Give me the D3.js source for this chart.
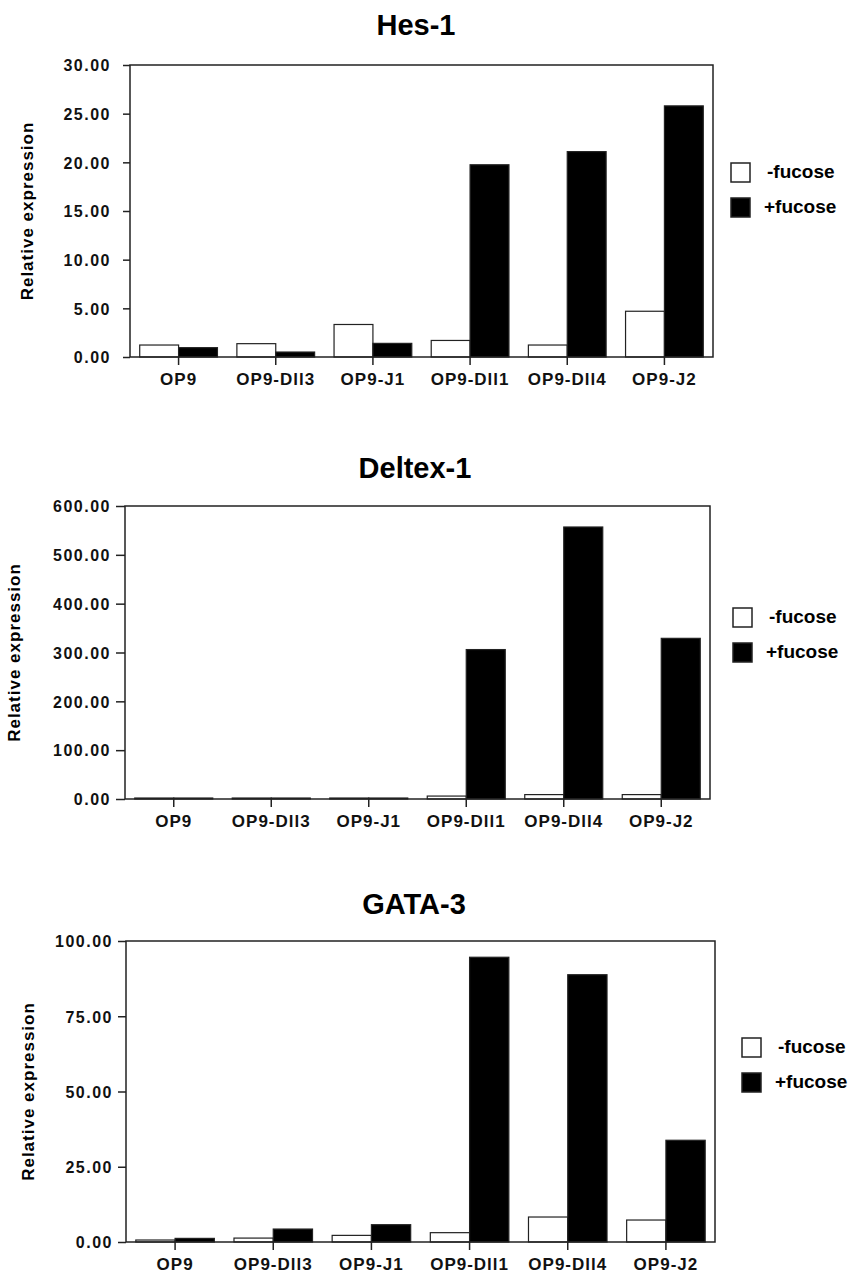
<!DOCTYPE html>
<html>
<head>
<meta charset="utf-8">
<title>Hes-1 / Deltex-1 / GATA-3</title>
<script src="https://cdn.jsdelivr.net/npm/d3@7"></script>
<style>
    body { margin: 0; background: #fff; }
    svg { font-family: "Liberation Sans", Arial, Helvetica, sans-serif; font-weight: bold; }
    .title { font-size: 29px; text-anchor: middle; }
    .ylab { font-size: 17px; letter-spacing: 1px; text-anchor: middle; }
    .yaxis text { font-size: 16px; letter-spacing: 1.5px; font-weight: bold; fill: #111; }
    .xaxis text { font-size: 17px; letter-spacing: 1px; font-weight: bold; fill: #111; }
    .leg { font-size: 19px; }
</style>
</head>
<body>
<script>
    // categories and series
    var categories = ["OP9", "OP9-Dll3", "OP9-J1", "OP9-Dll1", "OP9-Dll4", "OP9-J2"];
    var seriesNames = ["-fucose", "+fucose"];

    // Hes-1
    var hesMinus = [1.23, 1.37, 3.34, 1.70, 1.23, 4.70];
    var hesPlus = [0.96, 0.51, 1.40, 19.75, 21.10, 25.80];
    var hesTicks = [0, 5, 10, 15, 20, 25, 30];

    // Deltex-1
    var deltexMinus = [2, 2, 2, 6, 9, 9];
    var deltexPlus = [2, 2, 2, 306, 557, 329];
    var deltexTicks = [0, 100, 200, 300, 400, 500, 600];

    // GATA-3
    var gataMinus = [0.66, 1.3, 2.2, 3.1, 8.3, 7.3];
    var gataPlus = [1.2, 4.3, 5.75, 94.6, 88.8, 33.8];
    var gataTicks = [0, 25, 50, 75, 100];

    var width = 850, height = 1276;

    var svg = d3.select("body").append("svg")
            .attr("width", width)
            .attr("height", height);

    var fills = ["#fff", "#000"];

    function drawPanel(cfg) {
        var g = svg.append("g");

        var x = d3.scaleBand()
                .domain(categories)
                .range([cfg.left, cfg.right])
                .paddingInner(0.2)
                .paddingOuter(0.1);

        var xs = d3.scaleBand()
                .domain(seriesNames)
                .range([0, x.bandwidth()]);

        var y = d3.scaleLinear()
                .domain([0, d3.max(cfg.ticks)])
                .range([cfg.bottom, cfg.top]);

        // title
        g.append("text")
                .attr("class", "title")
                .attr("x", cfg.titleX)
                .attr("y", cfg.titleY)
                .text(cfg.title);

        // y label
        g.append("text")
                .attr("class", "ylab")
                .attr("transform", "translate(" + cfg.labX + "," + ((cfg.top + cfg.bottom) / 2) + ") rotate(-90)")
                .text("Relative expression");

        // bars
        var rows = categories.map(function (c, i) {
            return {cat: c, vals: [cfg.minus[i], cfg.plus[i]]};
        });

        var grp = g.selectAll(".grp")
                .data(rows)
                .enter()
                .append("g")
                .attr("transform", function (d) {
                    return "translate(" + x(d.cat) + ",0)";
                });

        grp.selectAll("rect")
                .data(function (d) {
                    return d.vals.map(function (v, j) {
                        return {s: seriesNames[j], v: v, j: j};
                    });
                })
                .enter()
                .append("rect")
                .attr("x", function (d) { return xs(d.s); })
                .attr("width", xs.bandwidth())
                .attr("y", function (d) { return y(d.v); })
                .attr("height", function (d) { return y(0) - y(d.v); })
                .attr("fill", function (d) { return fills[d.j]; })
                .attr("stroke", "#222")
                .attr("stroke-width", 1.2);

        // frame
        g.append("rect")
                .attr("x", cfg.left)
                .attr("y", cfg.top)
                .attr("width", cfg.right - cfg.left)
                .attr("height", cfg.bottom - cfg.top)
                .attr("fill", "none")
                .attr("stroke", "#222")
                .attr("stroke-width", 1.5);

        // axes
        var ya = g.append("g")
                .attr("class", "yaxis")
                .attr("transform", "translate(" + cfg.left + ",0)")
                .call(d3.axisLeft(y)
                        .tickValues(cfg.ticks)
                        .tickFormat(d3.format(".2f"))
                        .tickSize(cfg.tick)
                        .tickSizeOuter(0)
                        .tickPadding(cfg.left - cfg.labEnd - cfg.tick));
        ya.select(".domain").remove();
        ya.selectAll("line").attr("stroke", "#222").attr("stroke-width", 1.5);
        ya.selectAll("text").attr("dy", "0.36em");

        var xa = g.append("g")
                .attr("class", "xaxis")
                .attr("transform", "translate(0," + cfg.bottom + ")")
                .call(d3.axisBottom(x).tickSize(8).tickSizeOuter(0).tickPadding(5));
        xa.select(".domain").remove();
        xa.selectAll("line").attr("stroke", "#222").attr("stroke-width", 1.5);
        xa.selectAll("text").attr("dy", "0.9em");

        // legend
        var leg = g.append("g");
        seriesNames.forEach(function (s, j) {
            leg.append("rect")
                    .attr("x", cfg.legX)
                    .attr("y", cfg.legY + j * 35)
                    .attr("width", 19)
                    .attr("height", 19)
                    .attr("fill", fills[j])
                    .attr("stroke", "#222")
                    .attr("stroke-width", 1.5);
            leg.append("text")
                    .attr("class", "leg")
                    .attr("x", cfg.legX + (j === 0 ? 36 : 33))
                    .attr("y", cfg.legY + j * 35 + 15)
                    .text(s);
        });
    }

    drawPanel({
        title: "Hes-1", titleX: 416, titleY: 35,
        minus: hesMinus, plus: hesPlus, ticks: hesTicks,
        left: 130, right: 713, top: 65, bottom: 357,
        tick: 7, labEnd: 111, labX: 33,
        legX: 731, legY: 163
    });

    drawPanel({
        title: "Deltex-1", titleX: 415, titleY: 478,
        minus: deltexMinus, plus: deltexPlus, ticks: deltexTicks,
        left: 125, right: 710, top: 506, bottom: 799,
        tick: 9, labEnd: 111, labX: 20,
        legX: 733, legY: 608
    });

    drawPanel({
        title: "GATA-3", titleX: 414, titleY: 914,
        minus: gataMinus, plus: gataPlus, ticks: gataTicks,
        left: 126, right: 715, top: 941, bottom: 1242,
        tick: 8, labEnd: 113, labX: 34,
        legX: 742, legY: 1038
    });
</script>
</body>
</html>
